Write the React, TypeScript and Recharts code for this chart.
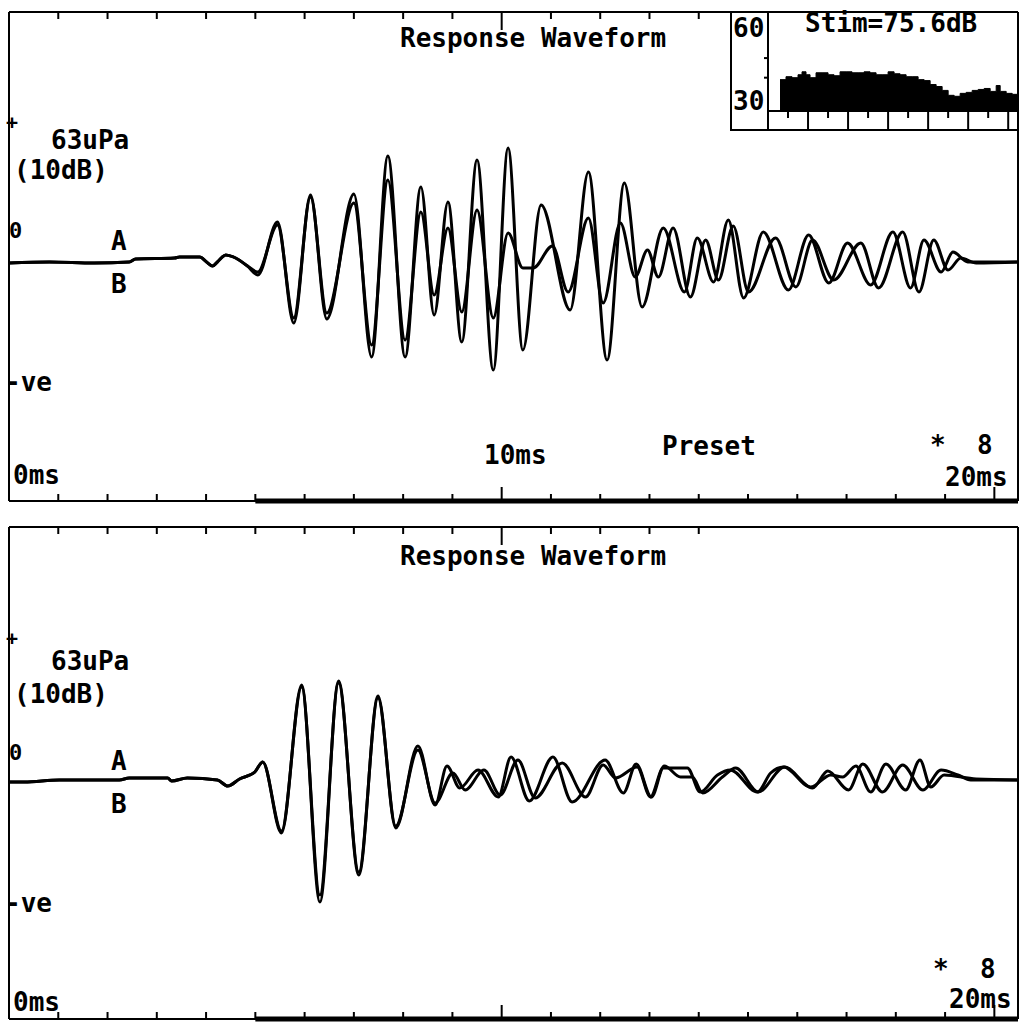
import React from 'react';
import { LineChart, Line, XAxis, YAxis, ReferenceLine, AreaChart, Area } from 'recharts';

type Pt = [number, number]; // [time ms, level] or [kHz, dB]

// Upper recording, buffer A and buffer B (time in ms, level in display units)
const upperA: Pt[] = [
  [0.0, 0], [0.82, 1], [1.73, 0], [2.44, 1], [2.57, 4], [3.36, 5], [3.46, 6], [3.87, 6],
  [4.01, 1], [4.13, -3], [4.23, 1], [4.4, 8], [4.6, 5], [4.84, -3], [5.05, -12], [5.45, 41],
  [5.78, -60], [6.12, 68], [6.45, -56], [7.0, 69], [7.36, -94], [7.69, 107], [8.04, -94],
  [8.36, 76], [8.63, -52], [8.91, 61], [9.19, -79], [9.5, 103], [9.83, -107], [10.13, 115],
  [10.43, -87], [10.8, 58], [11.39, -47], [11.76, 91], [12.14, -97], [12.49, 80], [12.85, -44],
  [13.28, 35], [13.71, -29], [13.97, 25], [14.3, -19], [14.6, 43], [14.91, -35], [15.31, 31],
  [15.82, -27], [16.23, 28], [16.64, -20], [17.02, 20], [17.49, -22], [17.94, 31], [18.3, -25],
  [18.57, 23], [18.92, -9], [19.16, 11], [19.46, 1], [19.83, 1], [20.48, 1],
];

const upperB: Pt[] = [
  [0.0, 0], [0.82, 1], [1.73, 0], [2.44, 1], [2.57, 4], [3.36, 5], [3.46, 6], [3.87, 6],
  [4.01, 1], [4.13, -3], [4.23, 1], [4.4, 8], [4.6, 5], [4.84, -3], [5.05, -9], [5.45, 38],
  [5.78, -55], [6.12, 66], [6.45, -50], [7.0, 60], [7.36, -82], [7.69, 83], [8.04, -77],
  [8.36, 51], [8.63, -32], [8.91, 35], [9.19, -49], [9.5, 53], [9.83, -55], [10.13, 30],
  [10.43, -5], [10.64, -5], [11.03, 17], [11.35, -29], [11.76, 45], [12.06, -40], [12.41, 40],
  [12.71, -14], [12.96, 13], [13.18, -14], [13.48, 35], [13.83, -34], [14.14, 23], [14.4, -17],
  [14.7, 37], [15.01, -29], [15.56, 25], [15.97, -24], [16.31, 23], [16.74, -17], [17.29, 20],
  [17.65, -25], [18.14, 31], [18.47, -29], [18.77, 23], [19.06, -7], [19.32, 5], [19.63, 0],
  [20.48, 1],
];

// Lower recording, buffer A and buffer B
const lowerA: Pt[] = [
  [0.0, -2], [0.31, -2], [1.02, 0], [2.24, 0], [2.44, 2], [3.22, 2], [3.3, -1], [3.62, 2],
  [4.23, 0], [4.44, -6], [4.68, 1], [4.99, 8], [5.15, 18], [5.53, -53], [5.94, 95], [6.31, -122],
  [6.69, 99], [7.1, -95], [7.49, 84], [7.85, -48], [8.3, 34], [8.65, -25], [8.89, 14], [9.15, -8],
  [9.52, 10], [9.93, -17], [10.19, 23], [10.56, -21], [11.04, 23], [11.43, -22], [12.1, 20],
  [12.47, -13], [12.73, 16], [13.04, -17], [13.3, 14], [13.63, 3], [13.87, 3], [14.08, -13],
  [14.48, 3], [14.75, 12], [15.21, -12], [15.74, 13], [16.31, -8], [16.62, 9], [17.04, -10],
  [17.33, 16], [17.73, -12], [18.14, 15], [18.55, -10], [18.92, 10], [19.26, 5], [19.52, 0],
  [20.48, 0],
];

const lowerB: Pt[] = [
  [0.0, -2], [0.31, -2], [1.02, 0], [2.24, 0], [2.44, 2], [3.22, 2], [3.3, -1], [3.62, 2],
  [4.23, 0], [4.44, -6], [4.68, 1], [4.99, 8], [5.15, 18], [5.53, -51], [5.94, 93], [6.31, -115],
  [6.69, 97], [7.1, -92], [7.49, 82], [7.85, -46], [8.3, 30], [8.65, -23], [9.01, 7], [9.26, -10],
  [9.64, 10], [9.97, -15], [10.33, 20], [10.68, -18], [11.23, 17], [11.7, -17], [12.06, 15],
  [12.31, 2], [12.75, 13], [13.02, -17], [13.28, 12], [13.77, 12], [14.03, -12], [14.38, 5],
  [14.64, 10], [15.19, -12], [15.46, 7], [15.72, 13], [16.27, -7], [16.68, 5], [16.92, 3],
  [17.19, 14], [17.49, -12], [17.8, 16], [18.2, -10], [18.49, 20], [18.71, -7], [18.98, 5],
  [19.63, 1], [20.48, 0],
];

// Response spectrum in the inset (kHz, dB)
const spectrum: Pt[] = [
  [0.3, 39.0], [0.45, 40.5], [0.6, 40.0], [0.75, 41.5], [0.85, 43.0], [0.95, 41.5], [1.05, 40.0],
  [1.2, 42.5], [1.35, 42.5], [1.5, 41.5], [1.65, 41.0], [1.8, 43.0], [1.95, 43.0], [2.1, 42.5],
  [2.25, 42.5], [2.4, 43.0], [2.55, 42.5], [2.7, 41.5], [2.85, 41.5], [3.0, 43.0], [3.15, 42.0],
  [3.3, 41.5], [3.45, 40.5], [3.6, 40.5], [3.75, 39.0], [3.9, 38.5], [4.05, 36.5], [4.2, 35.5],
  [4.35, 33.5], [4.5, 31.0], [4.65, 30.5], [4.8, 32.0], [4.95, 32.5], [5.1, 33.5], [5.25, 34.0],
  [5.4, 34.5], [5.55, 33.0], [5.7, 36.0], [5.8, 33.0], [5.95, 32.0], [6.1, 31.5], [6.22, 31.5],
];

const bottomTicksMs = [1, 2, 3, 4, 5, 6, 7, 8, 9, 10, 11, 12, 13, 14, 15, 16, 17, 18, 19, 20];
const topTicksMs = [1, 2, 3, 4, 5, 6, 7, 8, 9, 10, 11, 12, 13, 14];
const spectrumTicksKHz = [0, 0.5, 1, 1.5, 2, 2.5, 3, 3.5, 4, 4.5, 5, 5.5, 6];
const spectrumLevelTicks = [40, 50];

const SWEEP_MS = 20.48;
const WINDOW_START_MS = 5;
const FONT = '"DejaVu Sans Mono", monospace';
const INK = '#000';

const toRows = (pts: Pt[]) => pts.map(([t, v]) => ({ t, v }));
const toSpectrumRows = (pts: Pt[]) => pts.map(([f, db]) => ({ f, db }));

type Label = { text: string; x: number; y: number; size?: number };

const upperLabels: Label[] = [
  { text: 'Response Waveform', x: 400, y: 47 },
  { text: '+', x: 6, y: 129, size: 20 },
  { text: '63uPa', x: 51, y: 149 },
  { text: '(10dB)', x: 14, y: 179 },
  { text: '0', x: 9, y: 238, size: 22 },
  { text: 'A', x: 111, y: 250 },
  { text: 'B', x: 111, y: 293 },
  { text: '-ve', x: 5, y: 391 },
  { text: '10ms', x: 484, y: 464 },
  { text: 'Preset', x: 662, y: 455 },
  { text: '*  8', x: 930, y: 454 },
  { text: '0ms', x: 13, y: 484 },
  { text: '20ms', x: 945, y: 486 },
];

const lowerLabels: Label[] = [
  { text: 'Response Waveform', x: 400, y: 565 },
  { text: '+', x: 6, y: 645, size: 20 },
  { text: '63uPa', x: 51, y: 670 },
  { text: '(10dB)', x: 14, y: 703 },
  { text: '0', x: 9, y: 760, size: 22 },
  { text: 'A', x: 111, y: 770 },
  { text: 'B', x: 111, y: 813 },
  { text: '-ve', x: 5, y: 912 },
  { text: '*  8', x: 933, y: 978 },
  { text: '0ms', x: 13, y: 1011 },
  { text: '20ms', x: 949, y: 1008 },
];

const insetLabels: Label[] = [
  { text: '60', x: 733, y: 37 },
  { text: '30', x: 733, y: 110 },
  { text: 'Stim=75.6dB', x: 805, y: 32 },
];

// Tick marks drawn inward from the frame
const BottomTick = (props: any) => {
  const { x, y, payload } = props;
  const len = payload.value % 10 === 0 ? 14 : 7;
  return <line x1={x} y1={y} x2={x} y2={y - len} stroke={INK} strokeWidth={2} />;
};

const FreqTick = (props: any) => {
  const { x, y, payload } = props;
  const len = Number.isInteger(payload.value) ? 18 : 7;
  return <line x1={x} y1={y} x2={x} y2={y + len} stroke={INK} strokeWidth={2} />;
};

const LevelTick = (props: any) => {
  const { x, y } = props;
  return <line x1={x - 4} y1={y} x2={x} y2={y} stroke={INK} strokeWidth={2} />;
};

type PanelProps = {
  a: Pt[];
  b: Pt[];
  top: number;
  height: number;
  marginTop: number;
  marginBottom: number;
  yMin: number;
  yMax: number;
};

function WaveformPanel({ a, b, top, height, marginTop, marginBottom, yMin, yMax }: PanelProps) {
  return (
    <div style={{ position: 'absolute', left: 0, top }}>
      <LineChart
        width={1026}
        height={height}
        margin={{ top: marginTop, right: 8, bottom: marginBottom, left: 8 }}
      >
        <XAxis
          xAxisId="t"
          type="number"
          dataKey="t"
          domain={[0, SWEEP_MS]}
          allowDataOverflow
          ticks={bottomTicksMs}
          interval={0}
          height={1}
          tickSize={0}
          tickMargin={0}
          tickLine={false}
          axisLine={{ stroke: INK, strokeWidth: 2 }}
          tick={(p: any) => <BottomTick {...p} />}
        />
        <XAxis
          xAxisId="top"
          orientation="top"
          type="number"
          domain={[0, SWEEP_MS]}
          allowDataOverflow
          height={1}
          tick={false}
          tickLine={false}
          axisLine={{ stroke: INK, strokeWidth: 2 }}
        />
        <YAxis
          yAxisId="v"
          type="number"
          domain={[yMin, yMax]}
          allowDataOverflow
          width={1}
          tick={false}
          tickLine={false}
          axisLine={{ stroke: INK, strokeWidth: 2 }}
        />
        <ReferenceLine xAxisId="t" yAxisId="v" x={SWEEP_MS} stroke={INK} strokeWidth={2} />
        {topTicksMs.map((ms) => (
          <ReferenceLine
            key={`tt-${ms}`}
            xAxisId="t"
            yAxisId="v"
            segment={[
              { x: ms, y: yMax },
              { x: ms, y: yMax - (ms === 10 ? 18 : 7) },
            ]}
            stroke={INK}
            strokeWidth={2}
          />
        ))}
        <ReferenceLine
          xAxisId="t"
          yAxisId="v"
          segment={[
            { x: WINDOW_START_MS, y: yMin },
            { x: SWEEP_MS, y: yMin },
          ]}
          stroke={INK}
          strokeWidth={5}
        />
        <Line
          xAxisId="t"
          yAxisId="v"
          data={toRows(a)}
          dataKey="v"
          type="monotoneX"
          stroke={INK}
          strokeWidth={3}
          dot={false}
          isAnimationActive={false}
        />
        <Line
          xAxisId="t"
          yAxisId="v"
          data={toRows(b)}
          dataKey="v"
          type="monotoneX"
          stroke={INK}
          strokeWidth={3}
          dot={false}
          isAnimationActive={false}
        />
      </LineChart>
    </div>
  );
}

function SpectrumInset() {
  return (
    <div
      style={{
        position: 'absolute',
        left: 730,
        top: 13,
        width: 288,
        height: 118,
        boxSizing: 'border-box',
        borderLeft: `2px solid ${INK}`,
        borderBottom: `2px solid ${INK}`,
        background: '#fff',
      }}
    >
      <AreaChart
        width={285}
        height={116}
        data={toSpectrumRows(spectrum)}
        margin={{ top: 0, right: 0, bottom: 0, left: 0 }}
      >
        <XAxis
          type="number"
          dataKey="f"
          domain={[0, 6.22]}
          allowDataOverflow
          ticks={spectrumTicksKHz}
          interval={0}
          height={18}
          tickSize={0}
          tickMargin={0}
          tickLine={false}
          axisLine={{ stroke: INK, strokeWidth: 2 }}
          tick={(p: any) => <FreqTick {...p} />}
        />
        <YAxis
          type="number"
          domain={[23, 73]}
          allowDataOverflow
          width={36}
          ticks={spectrumLevelTicks}
          interval={0}
          tickSize={0}
          tickMargin={0}
          tickLine={false}
          axisLine={{ stroke: INK, strokeWidth: 2 }}
          tick={(p: any) => <LevelTick {...p} />}
        />
        <Area
          type="stepAfter"
          dataKey="db"
          stroke={INK}
          strokeWidth={1}
          fill={INK}
          fillOpacity={1}
          isAnimationActive={false}
        />
      </AreaChart>
    </div>
  );
}

export default function App() {
  const labels = [...upperLabels, ...lowerLabels, ...insetLabels];
  return (
    <div
      style={{
        position: 'absolute',
        left: 0,
        top: 0,
        width: 1026,
        height: 1023,
        background: '#fff',
        overflow: 'hidden',
      }}
    >
      <SpectrumInset />
      <WaveformPanel a={upperA} b={upperB} top={0} height={510} marginTop={11} marginBottom={8} yMin={-238} yMax={251} />
      <WaveformPanel a={lowerA} b={lowerB} top={515} height={508} marginTop={11} marginBottom={3} yMin={-239} yMax={253} />
      <svg
        width={1026}
        height={1023}
        style={{ position: 'absolute', left: 0, top: 0, pointerEvents: 'none' }}
      >
        {labels.map((l, i) => (
          <text
            key={i}
            x={l.x}
            y={l.y}
            fontFamily={FONT}
            fontWeight="bold"
            fontSize={l.size ?? 26}
            fill={INK}
            style={{ whiteSpace: 'pre' }}
          >
            {l.text}
          </text>
        ))}
      </svg>
    </div>
  );
}
